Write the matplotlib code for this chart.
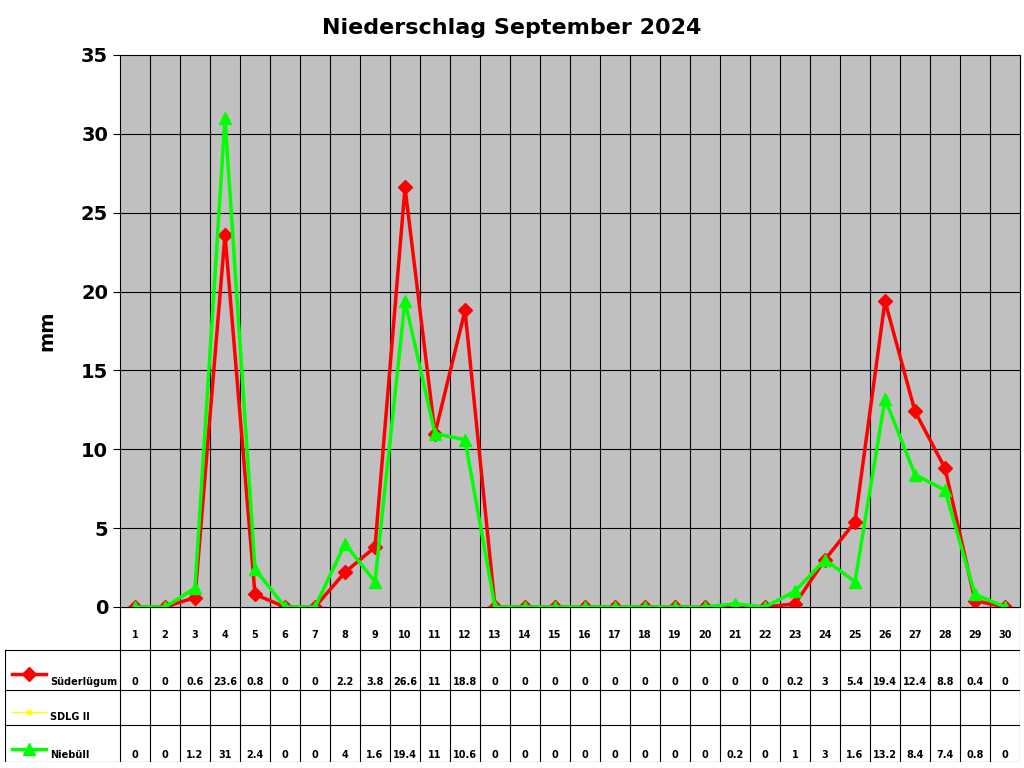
import numpy as np
import matplotlib
matplotlib.use("Agg")
import matplotlib.pyplot as plt

days = list(range(1, 31))
suederluegum = [0, 0, 0.6, 23.6, 0.8, 0, 0, 2.2, 3.8, 26.6, 11, 18.8, 0, 0, 0, 0, 0, 0, 0, 0,
                0, 0, 0.2, 3, 5.4, 19.4, 12.4, 8.8, 0.4, 0]
niebuell = [0, 0, 1.2, 31, 2.4, 0, 0, 4, 1.6, 19.4, 11, 10.6, 0, 0, 0, 0, 0, 0, 0, 0,
            0.2, 0, 1, 3, 1.6, 13.2, 8.4, 7.4, 0.8, 0]
series_names = ["Süderlügum", "SDLG II", "Niebüll"]

W, H = 1024, 768
fig = plt.figure(figsize=(W / 100, H / 100), dpi=100)

# main plot area
ax = fig.add_axes([120 / W, (H - 607) / H, 900 / W, (607 - 55) / H])
ax.set_facecolor("#c0c0c0")
ax.set_xlim(0.5, 30.5)
ax.set_ylim(0, 35)
ax.set_yticks(range(0, 36, 5))
ax.set_xticks([])
for x in np.arange(1.5, 30.5, 1):
    ax.axvline(x, color="black", lw=0.8)
for y in range(5, 35, 5):
    ax.axhline(y, color="black", lw=0.8)
ax.plot(days, suederluegum, color="#ff0000", lw=2.5, marker="D", ms=7, zorder=3)
ax.plot(days, niebuell, color="#00ff00", lw=2.5, marker="^", ms=9, zorder=4)
ax.tick_params(axis="y", labelsize=14, length=5)
for t in ax.get_yticklabels():
    t.set_fontweight("bold")
ax.set_ylabel("mm", fontsize=14, fontweight="bold", labelpad=18)
fig.text(0.5, 1 - 28 / H, "Niederschlag September 2024", ha="center", va="center",
         fontsize=16, fontweight="bold")

# data table below
tab = fig.add_axes([5 / W, 6 / H, 1015 / W, 155 / H])
x0 = 0.5 - 115 / 30
tab.set_xlim(x0, 30.5)
tab.set_ylim(762, 607)
tab.axis("off")
rows = [607, 650, 690, 725, 762]
for y in rows[1:]:
    tab.plot([x0, 30.5], [y, y], color="black", lw=0.8)
tab.plot([0.5, 30.5], [607, 607], color="black", lw=0.8)
for x in np.arange(0.5, 31, 1):
    tab.plot([x, x], [607, 762], color="black", lw=0.8)
tab.plot([x0, x0], [650, 762], color="black", lw=0.8)

for d in days:
    tab.text(d, 635, str(d), ha="center", va="center", fontsize=7, fontweight="bold")

def fmt(v):
    return str(int(v)) if v == int(v) else str(v)

rowy = [682, 717, 755]
for d, s, n in zip(days, suederluegum, niebuell):
    tab.text(d, rowy[0], fmt(s), ha="center", va="center", fontsize=7, fontweight="bold")
    tab.text(d, rowy[2], fmt(n), ha="center", va="center", fontsize=7, fontweight="bold")

def px(p):
    return x0 + (p - 5) / 30

legend_y = [674, 712, 749]
styles = [dict(color="#ff0000", marker="D", ms=7, lw=2.5),
          dict(color="#ffff00", marker="s", ms=3, lw=1),
          dict(color="#00ff00", marker="^", ms=9, lw=2.5)]
for name, ly, ty, st in zip(series_names, legend_y, rowy, styles):
    tab.plot([px(12), px(46)], [ly, ly], **st, markevery=[])
    tab.plot([px(29)], [ly], **st)
    tab.text(px(50), ty, name, ha="left", va="center", fontsize=7, fontweight="bold")

fig.savefig("out.png", dpi=100)
